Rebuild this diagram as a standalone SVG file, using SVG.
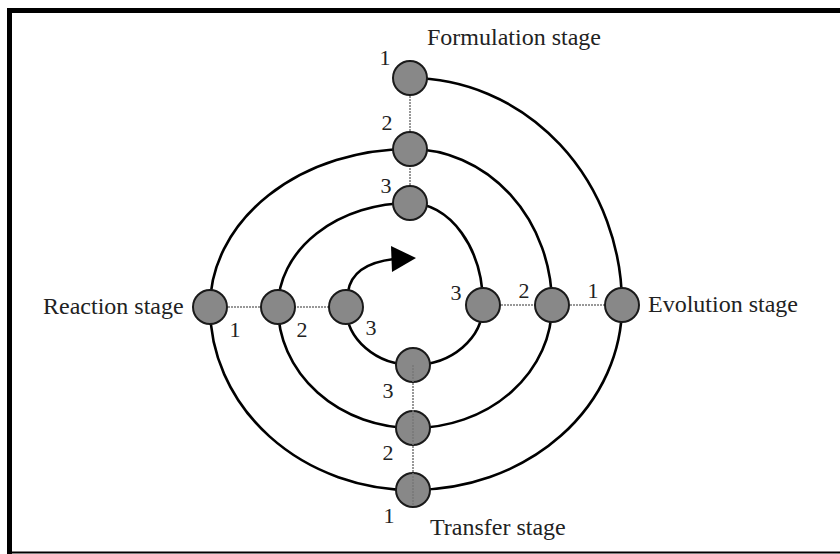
<svg xmlns="http://www.w3.org/2000/svg" width="840" height="554" viewBox="0 0 840 554">
<style>
.lbl{font-family:"Liberation Serif","Times New Roman",serif;font-size:24px;fill:#222}
.num{font-family:"Liberation Serif","Times New Roman",serif;font-size:22px;fill:#222;text-anchor:middle}
.node{fill:#888;stroke:#1a1a1a;stroke-width:2}
.arc{fill:none;stroke:#000;stroke-width:2.6}
.dot{fill:none;stroke:#777;stroke-width:1.5;stroke-dasharray:2 1}
</style>
<rect width="840" height="554" fill="#fff"/>
<g id="frame" fill="none" stroke="#000">
<line x1="7" y1="10.5" x2="840" y2="10.5" stroke-width="5"/>
<line x1="9.5" y1="8" x2="9.5" y2="554" stroke-width="5"/>
<line x1="7" y1="552.5" x2="840" y2="552.5" stroke-width="2"/>
</g>
<g id="connectors">
<path class="dot" d="M410,78 V203"/>
<path class="dot" d="M210,307 H346"/>
<path class="dot" d="M483,305 H622"/>
<path class="arc" d="M346,307 A67,58 0 0 0 413,365"/>
<path class="arc" d="M413,365 A70,60 0 0 0 483,305"/>
<path class="arc" d="M483,305 A73,102 0 0 0 410,203"/>
<path class="arc" d="M410,203 A132,104 0 0 0 278,307"/>
<path class="arc" d="M278,307 A135,121 0 0 0 413,428"/>
<path class="arc" d="M413,428 A139,123 0 0 0 552,305"/>
<path class="arc" d="M552,305 A142,156 0 0 0 410,149"/>
<path class="arc" d="M410,149 A200,158 0 0 0 210,307"/>
<path class="arc" d="M210,307 A203,183 0 0 0 413,490"/>
<path class="arc" d="M413,490 A209,185 0 0 0 622,305"/>
<path class="arc" d="M622,305 A212,227 0 0 0 410,78"/>
<path class="arc" d="M348,292 Q352,264 394,259"/>
<polygon points="391,246 416,258 392,272" fill="#000"/>
</g>
<g id="formulation">
<circle class="node" cx="410" cy="78" r="17"/>
<circle class="node" cx="410" cy="149" r="17"/>
<circle class="node" cx="410" cy="203" r="17"/>
<text class="lbl" x="427" y="45">Formulation stage</text>
<text class="num" x="385" y="65">1</text>
<text class="num" x="387" y="130">2</text>
<text class="num" x="386" y="193">3</text>
</g>
<g id="reaction">
<circle class="node" cx="210" cy="307" r="17"/>
<circle class="node" cx="278" cy="307" r="17"/>
<circle class="node" cx="346" cy="307" r="17"/>
<text class="lbl" x="43" y="314">Reaction stage</text>
<text class="num" x="235" y="337">1</text>
<text class="num" x="302" y="337">2</text>
<text class="num" x="371" y="335">3</text>
</g>
<g id="evolution">
<circle class="node" cx="483" cy="305" r="17"/>
<circle class="node" cx="552" cy="305" r="17"/>
<circle class="node" cx="622" cy="305" r="17"/>
<text class="lbl" x="648" y="312">Evolution stage</text>
<text class="num" x="456" y="300">3</text>
<text class="num" x="524" y="298">2</text>
<text class="num" x="593" y="298">1</text>
</g>
<g id="transfer">
<circle class="node" cx="413" cy="365" r="17"/>
<circle class="node" cx="413" cy="428" r="17"/>
<circle class="node" cx="413" cy="490" r="17"/>
<path class="dot" d="M413,365 V505"/>
<text class="lbl" x="430" y="535">Transfer stage</text>
<text class="num" x="388" y="398">3</text>
<text class="num" x="388" y="460">2</text>
<text class="num" x="389" y="523">1</text>
</g>
</svg>
